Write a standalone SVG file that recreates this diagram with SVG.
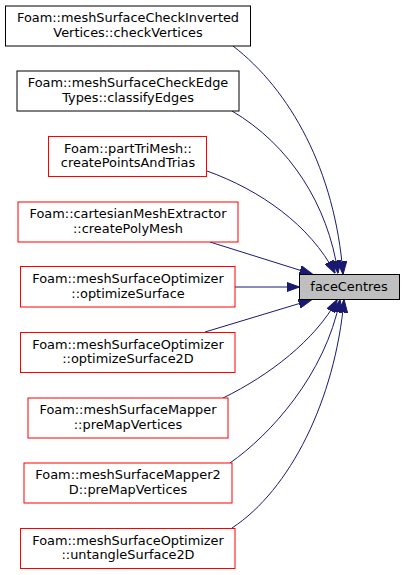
<svg xmlns="http://www.w3.org/2000/svg" width="404" height="575" viewBox="0 0 404 575">
<style>
.bg{fill:#ffffff}
.n rect{fill:#ffffff;stroke-width:1}
.blk rect{stroke:#000000}
.red rect{stroke:#ff0000}
text{font-family:"DejaVu Sans","Liberation Sans",sans-serif;font-size:12.9px;fill:#000000;text-anchor:middle}
.e path{fill:none;stroke:#191970;stroke-width:1}
</style>
<defs>
<marker id="ah" viewBox="0 0 13 9.4" refX="12.5" refY="4.7" markerWidth="13" markerHeight="9.4" markerUnits="userSpaceOnUse" orient="auto">
<path d="M0,0 L13,4.7 L0,9.4 z" fill="#191970" stroke="#191970" stroke-width="1"/>
</marker>
</defs>
<rect class="bg" x="0" y="0" width="404" height="575"/>
<g id="connectors" class="e">
<path d="M233,46 C290,90 335,170 343,274" marker-end="url(#ah)"/>
<path d="M232,111 C290,145 328,205 338,273" marker-end="url(#ah)"/>
<path d="M207,171 C260,190 310,225 335,273" marker-end="url(#ah)"/>
<path d="M210,242 L312,274" marker-end="url(#ah)"/>
<path d="M235,287 L299,287" marker-end="url(#ah)"/>
<path d="M205,332 L311,300" marker-end="url(#ah)"/>
<path d="M223,398 C270,375 315,340 337,300" marker-end="url(#ah)"/>
<path d="M230,463 C270,435 325,375 340,300" marker-end="url(#ah)"/>
<path d="M232,528 C290,490 335,400 344,300" marker-end="url(#ah)"/>
</g>
<g id="node-target" class="n">
<rect x="299.5" y="274.5" width="100" height="25" style="fill:#bfbfbf;stroke:#000000"/>
<text x="349" y="290.5">faceCentres</text>
</g>
<g id="node1" class="n blk">
<rect x="5.5" y="6" width="245" height="40"/>
<text x="128" y="22">Foam::meshSurfaceCheckInverted</text>
<text x="128" y="36.5">Vertices::checkVertices</text>
</g>
<g id="node2" class="n blk">
<rect x="17" y="71" width="222" height="40"/>
<text x="128" y="87.3">Foam::meshSurfaceCheckEdge</text>
<text x="128" y="101.8">Types::classifyEdges</text>
</g>
<g id="node3" class="n red">
<rect x="48.5" y="136.5" width="158" height="40"/>
<text x="128" y="152.7">Foam::partTriMesh::</text>
<text x="128" y="167.2">createPointsAndTrias</text>
</g>
<g id="node4" class="n red">
<rect x="18" y="202" width="220" height="40"/>
<text x="128" y="218">Foam::cartesianMeshExtractor</text>
<text x="128" y="232.5">::createPolyMesh</text>
</g>
<g id="node5" class="n red">
<rect x="20.5" y="266.5" width="214.5" height="40.5"/>
<text x="128" y="283.3">Foam::meshSurfaceOptimizer</text>
<text x="128" y="297.8">::optimizeSurface</text>
</g>
<g id="node6" class="n red">
<rect x="20.5" y="332.5" width="214.5" height="40"/>
<text x="128" y="348.7">Foam::meshSurfaceOptimizer</text>
<text x="128" y="363.2">::optimizeSurface2D</text>
</g>
<g id="node7" class="n red">
<rect x="28" y="398" width="200" height="40"/>
<text x="128" y="414">Foam::meshSurfaceMapper</text>
<text x="128" y="428.5">::preMapVertices</text>
</g>
<g id="node8" class="n red">
<rect x="24" y="463" width="208" height="40"/>
<text x="128" y="479.3">Foam::meshSurfaceMapper2</text>
<text x="128" y="493.8">D::preMapVertices</text>
</g>
<g id="node9" class="n red">
<rect x="20.5" y="528.5" width="214.5" height="40"/>
<text x="128" y="544.7">Foam::meshSurfaceOptimizer</text>
<text x="128" y="559.2">::untangleSurface2D</text>
</g>
</svg>
